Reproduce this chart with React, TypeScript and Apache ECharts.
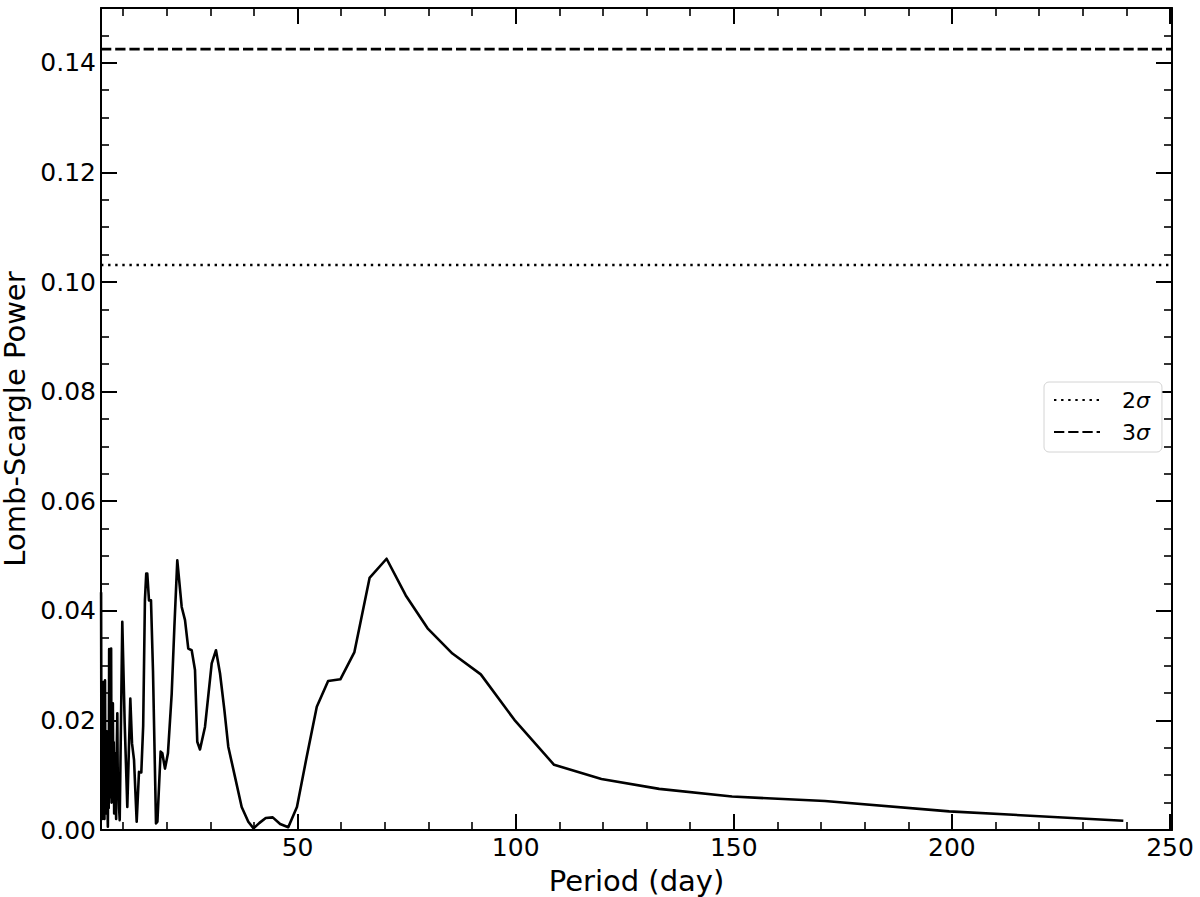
import React, { useEffect, useRef } from "react";
import * as echarts from "echarts";

// ---- data ----
// short-period (densely sampled) part
const DENSE_PERIOD: number[] = [
  4.95, 5.05, 5.12, 5.2, 5.28, 5.36, 5.45, 5.55, 5.65, 5.72, 5.85, 5.95, 6.05, 6.12, 6.25, 6.35,
  6.5, 6.6, 6.7, 6.8, 6.9, 7.0, 7.1, 7.18, 7.25, 7.35, 7.45, 7.55, 7.65, 7.75, 7.85, 7.95,
  8.05, 8.12, 8.2, 8.3, 8.4, 8.5, 8.67, 8.8, 8.95, 9.08, 9.22,
];
const DENSE_POWER: number[] = [
  0.0434, 0.004, 0.022, 0.002, 0.018, 0.006, 0.027, 0.003, 0.02, 0.002, 0.0273, 0.005, 0.015, 0.003, 0.018, 0.008,
  0.0006, 0.012, 0.004, 0.033, 0.01, 0.006, 0.02, 0.008, 0.0331, 0.005, 0.015, 0.007, 0.0231, 0.006, 0.016, 0.003,
  0.012, 0.004, 0.014, 0.006, 0.002, 0.012, 0.0213, 0.006, 0.008, 0.004, 0.0018,
];
// remaining part
const MAIN_PERIOD: number[] = [
  9.81, 10.36, 10.96, 11.65, 12.04, 12.5, 13.11, 13.64, 14.17, 14.6, 15.0,
  15.3, 15.54, 15.93, 16.39, 16.85, 17.54, 17.86, 18.6, 18.99, 19.6, 20.28, 21.14, 21.75,
  22.42, 22.8, 23.43, 24.19, 24.94, 25.72, 26.48, 27.0, 27.62, 28.77, 30.31, 31.29, 32.21,
  33.2, 34.11, 35.65, 37.18, 38.7, 39.9, 41.26, 42.7, 44.3, 46.0, 47.86, 49.85, 52.0, 54.4,
  57.0, 59.8, 63.0, 66.5, 70.4, 74.8, 79.8, 85.5, 92.0, 99.7, 108.8, 119.65, 132.9, 149.6,
  170.9, 199.4, 239.3,
];
const MAIN_POWER: number[] = [
  0.038, 0.0195, 0.0042, 0.024, 0.0158, 0.0128, 0.0015, 0.0106, 0.0105, 0.019, 0.042,
  0.0468, 0.0468, 0.0419, 0.0419, 0.029, 0.0012, 0.0015, 0.0143, 0.014, 0.0112, 0.014, 0.0249, 0.037,
  0.0492, 0.046, 0.0407, 0.0383, 0.0331, 0.0328, 0.0292, 0.0161, 0.0147, 0.0188, 0.0304, 0.0328, 0.0286,
  0.022, 0.0152, 0.0097, 0.0042, 0.0015, 0.0003, 0.0013, 0.0022, 0.0023, 0.0011, 0.0005, 0.0042, 0.013, 0.0225,
  0.0272, 0.0275, 0.0324, 0.046, 0.0495, 0.0428, 0.0368, 0.0322, 0.0284, 0.0201, 0.0119, 0.0093, 0.0075, 0.0061,
  0.0053, 0.0034, 0.0017,
];
const SIGMA_NAMES = ["2σ", "3σ"];
const SIGMA_LEVELS = [0.1031, 0.1425];

const X_MIN = 4.93;
const X_MAX = 250.46;
const Y_MIN = 0;
const Y_MAX = 0.15;
const X_MAJOR = [50, 100, 150, 200, 250];
const X_MINOR = [10, 20, 30, 40, 60, 70, 80, 90, 110, 120, 130, 140, 160, 170, 180, 190, 210, 220, 230, 240];
const Y_MAJOR = [0, 0.02, 0.04, 0.06, 0.08, 0.1, 0.12, 0.14];
const Y_MINOR = [
  0.005, 0.01, 0.015, 0.025, 0.03, 0.035, 0.045, 0.05, 0.055, 0.065, 0.07, 0.075, 0.085, 0.09,
  0.095, 0.105, 0.11, 0.115, 0.125, 0.13, 0.135, 0.145,
];

const FONT = "'DejaVu Sans', sans-serif";

function buildOption() {
  const periods = DENSE_PERIOD.concat(MAIN_PERIOD);
  const powers = DENSE_POWER.concat(MAIN_POWER);

  const majorTick = (vals: number[]) => ({
    show: true,
    inside: true,
    length: 16,
    customValues: vals,
    lineStyle: { color: "#000", width: 2 },
  });
  const minorTick = (vals: number[]) => ({
    show: true,
    inside: true,
    length: 8,
    customValues: vals,
    lineStyle: { color: "#000", width: 1.6 },
  });
  const axisLine = { show: true, onZero: false, lineStyle: { color: "#000", width: 2 } };
  const noLine = { show: false, onZero: false };

  const xBase = { type: "value", min: X_MIN, max: X_MAX, splitLine: { show: false } };
  const yBase = { type: "value", min: Y_MIN, max: Y_MAX, splitLine: { show: false } };

  const xAxis = [
    {
      ...xBase,
      position: "bottom",
      axisLine,
      axisTick: majorTick(X_MAJOR),
      axisLabel: {
        show: true,
        customValues: X_MAJOR,
        fontSize: 25,
        color: "#000",
        fontFamily: FONT,
        margin: 5,
        formatter: (v: number) => String(Math.round(v)),
      },
      name: "Period (day)",
      nameLocation: "middle",
      nameGap: 36,
      nameTextStyle: { fontSize: 29, color: "#000", fontFamily: FONT },
    },
    { ...xBase, position: "bottom", axisLine: noLine, axisTick: minorTick(X_MINOR), axisLabel: { show: false } },
    { ...xBase, position: "top", axisLine, axisTick: majorTick(X_MAJOR), axisLabel: { show: false } },
    { ...xBase, position: "top", axisLine: noLine, axisTick: minorTick(X_MINOR), axisLabel: { show: false } },
  ];

  const yAxis = [
    {
      ...yBase,
      position: "left",
      axisLine,
      axisTick: majorTick(Y_MAJOR),
      axisLabel: {
        show: true,
        customValues: Y_MAJOR,
        fontSize: 25,
        color: "#000",
        fontFamily: FONT,
        margin: 5,
        formatter: (v: number) => v.toFixed(2),
      },
      name: "Lomb-Scargle Power",
      nameLocation: "middle",
      nameGap: 65,
      nameTextStyle: { fontSize: 29, lineHeight: 27, color: "#000", fontFamily: FONT },
    },
    { ...yBase, position: "left", axisLine: noLine, axisTick: minorTick(Y_MINOR), axisLabel: { show: false } },
    { ...yBase, position: "right", axisLine, axisTick: majorTick(Y_MAJOR), axisLabel: { show: false } },
    { ...yBase, position: "right", axisLine: noLine, axisTick: minorTick(Y_MINOR), axisLabel: { show: false } },
  ];

  const sigmaDash: any[] = [
    [2.4, 4.7],
    [10.3, 3.9],
  ];

  const series: any[] = [
    {
      type: "line",
      name: "power",
      xAxisIndex: 0,
      yAxisIndex: 0,
      data: periods.map((p, i) => [p, powers[i]]),
      symbol: "none",
      showSymbol: false,
      color: "#000",
      lineStyle: { color: "#000", width: 2.6, join: "round" },
      z: 3,
    },
    ...SIGMA_NAMES.map((name, i) => ({
      type: "line",
      name,
      xAxisIndex: 0,
      yAxisIndex: 0,
      data: [
        [X_MIN, SIGMA_LEVELS[i]],
        [X_MAX, SIGMA_LEVELS[i]],
      ],
      symbol: "none",
      showSymbol: false,
      color: "#000",
      lineStyle: { color: "#000", width: i === 0 ? 2.5 : 2.6, type: sigmaDash[i], cap: "butt" },
      z: 2,
    })),
  ];

  return {
    animation: false,
    backgroundColor: "#fff",
    grid: { left: 101, right: 28, top: 8, bottom: 67, containLabel: false, outerBoundsMode: "none" },
    xAxis,
    yAxis,
    legend: {
      show: true,
      data: SIGMA_NAMES,
      orient: "vertical",
      left: 1044,
      top: 382,
      itemWidth: 46,
      itemHeight: 14,
      itemGap: 10,
      padding: [7, 12, 9, 9],
      backgroundColor: "#fff",
      borderColor: "#d4d4d4",
      borderWidth: 1,
      borderRadius: 5,
      selectedMode: false,
      itemStyle: { opacity: 0 },
      formatter: (name: string) => `{n|${name.charAt(0)}}{s|σ}`,
      textStyle: {
        color: "#000",
        fontFamily: FONT,
        fontSize: 22,
        rich: {
          n: { fontSize: 22, fontFamily: FONT, color: "#000", padding: [0, 0, 0, 17] },
          s: { fontSize: 22, fontFamily: FONT, color: "#000", fontStyle: "italic" },
        },
      },
    },
    series,
  };
}

export default function App() {
  const ref = useRef<HTMLDivElement>(null);
  useEffect(() => {
    if (!ref.current) return;
    const chart = echarts.init(ref.current, null, { renderer: "svg" });
    chart.setOption(buildOption() as any);
    return () => chart.dispose();
  }, []);
  return (
    <div
      ref={ref}
      style={{ position: "absolute", left: 0, top: 0, width: 1200, height: 897 }}
    />
  );
}
